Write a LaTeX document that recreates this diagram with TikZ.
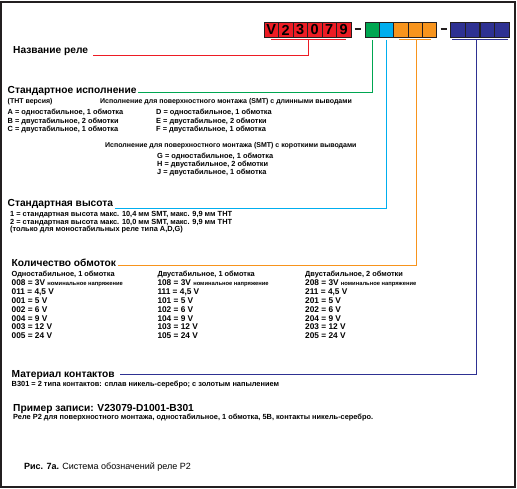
\documentclass[tikz,border=0pt]{standalone}
\usepackage{fontspec}
\setmainfont{Liberation Sans}
\usetikzlibrary{positioning}
\definecolor{relred}{HTML}{ED1C24}
\definecolor{relgreen}{HTML}{00A651}
\definecolor{relblue}{HTML}{00AEEF}
\definecolor{relorange}{HTML}{F7941D}
\definecolor{relnavy}{HTML}{2E3192}
\definecolor{framecol}{HTML}{231F20}
\tikzset{
    cell/.style={
        draw=framecol,
        line width=1pt,
        minimum width=14.5pt,
        minimum height=14.7pt,
        inner sep=0pt,
        font=\fontsize{14.5}{14.5}\selectfont\bfseries
    },
    title/.style={
        anchor=base west,
        inner sep=0pt,
        font=\fontsize{10.2}{11}\selectfont\bfseries
    },
    small/.style={
        anchor=base west,
        inner sep=0pt,
        font=\fontsize{7.4}{8}\selectfont\bfseries
    },
    note/.style={
        small,
        font=\fontsize{7}{8}\selectfont\bfseries
    },
    code/.style={
        anchor=base west,
        inner sep=0pt,
        font=\fontsize{8.3}{9}\selectfont\bfseries
    },
    caption/.style={
        anchor=base west,
        inner sep=0pt,
        font=\fontsize{9}{10}\selectfont
    },
    link/.style={
        line width=0.9pt
    }
}
\newcommand{\tinytext}[1]{{\fontsize{5.8}{6}\selectfont #1}}

\begin{document}
\begin{tikzpicture}[x=1pt,y=-1pt]

\useasboundingbox (0,0) rectangle (517,489);
\draw[line width=1.5pt, framecol] (1,2) rectangle (515,487);

\foreach \c [count=\i from 0] in {V,2,3,0,7,9}
    \node[cell, fill=relred] (r\i) at ({271.25+14.5*\i},30) {\c};
\node[cell, fill=relgreen] (g0) at (372.7,30) {};
\node[cell, fill=relblue] (b0) at (386.9,30) {};
\foreach \i in {0,1,2}
    \node[cell, fill=relorange] (o\i) at ({401+14.35*\i},30) {};
\foreach \i in {0,...,3}
    \node[cell, fill=relnavy] (n\i) at ({458+14.65*\i},30) {};

\draw[line width=1.2pt, framecol] (354.5,29) -- (361,29);
\draw[line width=1.2pt, framecol] (440.5,29) -- (447,29);

\node[title] (tname) at (13,54) {Название реле};

\node[title] (tstd) at (7.5,94) {Стандартное исполнение};
\node[note] (ttht) at (7.5,104) {(THT версия)};
\node[note] (tsmtl) at (100,104) {Исполнение для поверхностного монтажа (SMT) с длинными выводами};
\foreach \t [count=\k from 0] in {{A = одностабильное, 1 обмотка},{B = двустабильное, 2 обмотки},{C = двустабильное, 1 обмотка}}
    \node[small] (abc\k) at (7.5,{115+8.3*\k}) {\t};
\foreach \t [count=\k from 0] in {{D = одностабильное, 1 обмотка},{E = двустабильное, 2 обмотки},{F = двустабильное, 1 обмотка}}
    \node[small] (def\k) at (156,{115+8.3*\k}) {\t};
\node[note] (tsmts) at (105,147.5) {Исполнение для поверхностного монтажа (SMT) с короткими выводами};
\foreach \t [count=\k from 0] in {{G = одностабильное, 1 обмотка},{H = двустабильное, 2 обмотки},{J = двустабильное, 1 обмотка}}
    \node[small] (ghj\k) at (157,{159+7.6*\k}) {\t};

\node[title] (theight) at (7.5,207) {Стандартная высота};
\node[small] (th1) at (10,217) {1 = стандартная высота макс. 10,4 мм SMT, макс. 9,9 мм THT};
\node[small] (th2) at (10,224.5) {2 = стандартная высота макс. 10,0 мм SMT, макс. 9,9 мм THT};
\node[small] (th3) at (10,232) {(только для моностабильных реле типа A,D,G)};

\node[title] (tcoil) at (11.5,267) {Количество обмоток};
\node[small] (hd0) at (11.5,276.5) {Одностабильное, 1 обмотка};
\node[small] (hd1) at (157.3,276.5) {Двустабильное, 1 обмотка};
\node[small] (hd2) at (305,276.5) {Двустабильное, 2 обмотки};
\foreach \p/\x in {0/11.5,1/157.3,2/305} {
    \node[code] (row\p-0) at (\x,286) {\p08 = 3V \tinytext{номинальное напряжение}};
    \foreach \s/\v [count=\k] in {11/{4,5},01/5,02/6,04/9,03/12,05/24}
        \node[code] (row\p-\k) at (\x,{286+8.8*\k}) {\p\s{} = \v{} V};
}

\node[title] (tmat) at (11.5,377) {Материал контактов};
\node[small] (tb301) at (11.5,386.5) {B301 = 2 типа контактов: сплав никель-серебро; с золотым напылением};

\node[title] (tex) at (13,411) {Пример записи: V23079-D1001-B301};
\node[small] (texd) at (13,419.5) {Реле P2 для поверхностного монтажа, одностабильное, 1 обмотка, 5В, контакты никель-серебро.};

\node[caption] (tfig) at (24,469) {\textbf{Рис. 7а.} Система обозначений реле P2};

\coordinate (redtap) at (308.7,39.3);
\coordinate (redend) at (93,55.7);
\coordinate (greenend) at (138,92.3);
\coordinate (blueend) at (115,208.5);
\coordinate (orangetap) at (416.7,39.3);
\coordinate (orangeend) at (118,265);
\coordinate (navytap) at (476.3,39.3);
\coordinate (navyend) at (120,374.5);

\draw[link, relred] ([yshift=-2pt]r0.south) -- ([yshift=-2pt,xshift=2pt]r5.south);
\draw[link, relred] (redtap) |- (redend);
\draw[link, relgreen] ([yshift=-2pt]g0.south) |- (greenend);
\draw[link, relblue] ([yshift=-2pt]b0.south) |- (blueend);
\draw[link, relorange] ([yshift=-2pt,xshift=-2pt]o0.south) -- ([yshift=-2pt,xshift=1pt]o2.south);
\draw[link, relorange] (orangetap) |- (orangeend);
\draw[link, relnavy] ([yshift=-2pt,xshift=-6pt]n0.south) -- ([yshift=-2pt,xshift=6.3pt]n3.south);
\draw[link, relnavy] (navytap) |- (navyend);

\end{tikzpicture}
\end{document}
